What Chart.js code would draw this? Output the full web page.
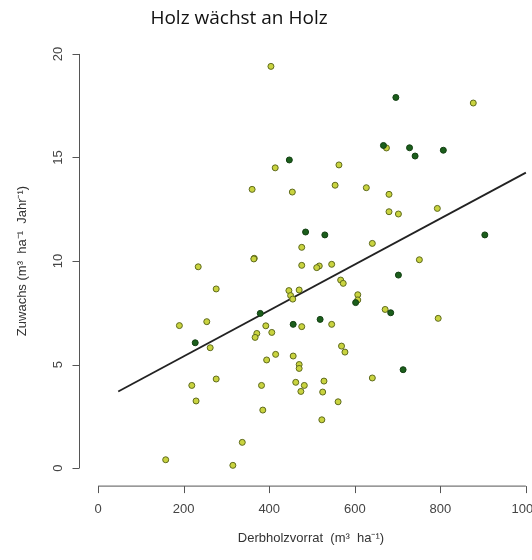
<!DOCTYPE html>
<html>
<head>
<meta charset="utf-8">
<title>Holz wächst an Holz</title>
<script src="https://cdn.jsdelivr.net/npm/chart.js@4.4.1/dist/chart.umd.min.js"></script>
<style>
  html, body { margin: 0; padding: 0; background: #fff; overflow: hidden; }
  #wrap { position: absolute; left: 0; top: 0; width: 560px; height: 560px; }
</style>
</head>
<body>
<div id="wrap"><canvas id="chart" width="560" height="560"></canvas></div>
<script>
/* ===== Daten ===== */
const vorratHell = [404, 414, 360, 454, 563, 554, 476, 365, 674, 627, 680, 680, 702, 793, 877,
  641, 751, 546, 517, 511, 567, 573, 607, 607, 671, 795, 546, 569, 577, 641, 528, 525, 561, 523,
  234, 364, 476, 276, 446, 470, 450, 455, 190, 254, 476, 392, 406, 371, 367, 262, 394, 415, 456,
  470, 470, 276, 219, 382, 462, 482, 474, 229, 385, 337, 158, 315];
const zuwachsHell = [19.4, 14.5, 13.46, 13.33, 14.64, 13.66, 10.66, 10.13, 15.46, 13.54, 13.22, 12.38, 12.27, 12.54, 17.63,
  10.85, 10.06, 9.84, 9.76, 9.68, 9.08, 8.92, 8.37, 8.12, 7.66, 7.23, 6.94, 5.89, 5.6, 4.35, 4.2, 3.67, 3.2, 2.33,
  9.72, 10.1, 9.79, 8.65, 8.57, 8.6, 8.33, 8.16, 6.88, 7.07, 6.83, 6.87, 6.55, 6.5, 6.31, 5.81, 5.22, 5.49, 5.41,
  5.0, 4.81, 4.3, 3.99, 3.99, 4.14, 3.99, 3.7, 3.24, 2.8, 1.24, 0.4, 0.13];

const vorratDunkel = [447, 485, 530, 696, 667, 728, 741, 807, 904, 702, 602, 684, 519, 713, 379, 456, 227];
const zuwachsDunkel = [14.88, 11.4, 11.26, 17.9, 15.58, 15.47, 15.07, 15.35, 11.26, 9.32, 7.99, 7.5, 7.18, 4.75, 7.47, 6.94, 6.05];

// Regressionsgerade: Anfangs- und Endpunkt
const geradeX = [47, 1000];
const geradeY = [3.7, 14.27];

const xTicks = [0, 200, 400, 600, 800, 1000];
const yTicks = [0, 5, 10, 15, 20];

const toPoints = (xs, ys) => xs.map((x, i) => ({ x, y: ys[i] }));

/* ===== Achsen im R-Stil ===== */
const rAxes = {
  id: 'rAxes',
  afterDraw(chart) {
    const { ctx, chartArea, scales: { x, y } } = chart;
    const axisColor = '#555';
    const font = '13px "Liberation Sans", Arial, sans-serif';
    ctx.save();
    ctx.strokeStyle = axisColor;
    ctx.lineWidth = 1;

    // x-Achse
    const ax = chartArea.bottom + 1.5;
    ctx.beginPath();
    ctx.moveTo(x.getPixelForValue(xTicks[0]), ax);
    ctx.lineTo(x.getPixelForValue(xTicks[xTicks.length - 1]), ax);
    xTicks.forEach(t => {
      const px = Math.round(x.getPixelForValue(t)) + 0.5;
      ctx.moveTo(px, ax);
      ctx.lineTo(px, ax + 7);
    });
    ctx.stroke();
    ctx.fillStyle = '#444';
    ctx.font = font;
    ctx.textAlign = 'center';
    ctx.textBaseline = 'middle';
    xTicks.forEach(t => ctx.fillText(String(t), x.getPixelForValue(t), ax + 23));

    // y-Achse
    const ay = chartArea.left - 1.5;
    ctx.beginPath();
    ctx.moveTo(ay, y.getPixelForValue(yTicks[0]));
    ctx.lineTo(ay, y.getPixelForValue(yTicks[yTicks.length - 1]));
    yTicks.forEach(t => {
      const py = Math.round(y.getPixelForValue(t)) + 0.5;
      ctx.moveTo(ay, py);
      ctx.lineTo(ay - 7, py);
    });
    ctx.stroke();
    yTicks.forEach(t => {
      ctx.save();
      ctx.translate(ay - 21, y.getPixelForValue(t));
      ctx.rotate(-Math.PI / 2);
      ctx.fillText(String(t), 0, 0);
      ctx.restore();
    });

    // Achsentitel
    ctx.fillStyle = '#333';
    ctx.fillText('Derbholzvorrat  (m³  ha⁻¹)', 311, 538);
    ctx.save();
    ctx.translate(22, 261);
    ctx.rotate(-Math.PI / 2);
    ctx.fillText('Zuwachs (m³  ha⁻¹  Jahr⁻¹)', 0, 0);
    ctx.restore();

    // Titel
    ctx.fillStyle = '#111';
    ctx.font = '19px "Open Sans", sans-serif';
    ctx.fillText('Holz wächst an Holz', 239, 19);
    ctx.restore();
  }
};

new Chart(document.getElementById('chart'), {
  type: 'scatter',
  data: {
    datasets: [
      {
        type: 'line',
        data: toPoints(geradeX, geradeY),
        borderColor: '#222',
        borderWidth: 1.8,
        pointRadius: 0,
        fill: false,
        order: 2
      },
      {
        data: toPoints(vorratHell, zuwachsHell),
        backgroundColor: '#c9d33f',
        borderColor: '#5e6a1c',
        borderWidth: 1,
        pointRadius: 3,
        order: 1
      },
      {
        data: toPoints(vorratDunkel, zuwachsDunkel),
        backgroundColor: '#1b5e1b',
        borderColor: '#123f12',
        borderWidth: 1,
        pointRadius: 3,
        order: 0
      }
    ]
  },
  options: {
    responsive: false,
    animation: false,
    layout: { padding: { left: 81, right: 17, top: 37.4, bottom: 75.4 } },
    plugins: { legend: { display: false }, tooltip: { enabled: false } },
    scales: {
      x: { type: 'linear', min: -40, max: 1040, display: false },
      y: { type: 'linear', min: -0.8, max: 20.8, display: false }
    }
  },
  plugins: [rAxes]
});
</script>
</body>
</html>
